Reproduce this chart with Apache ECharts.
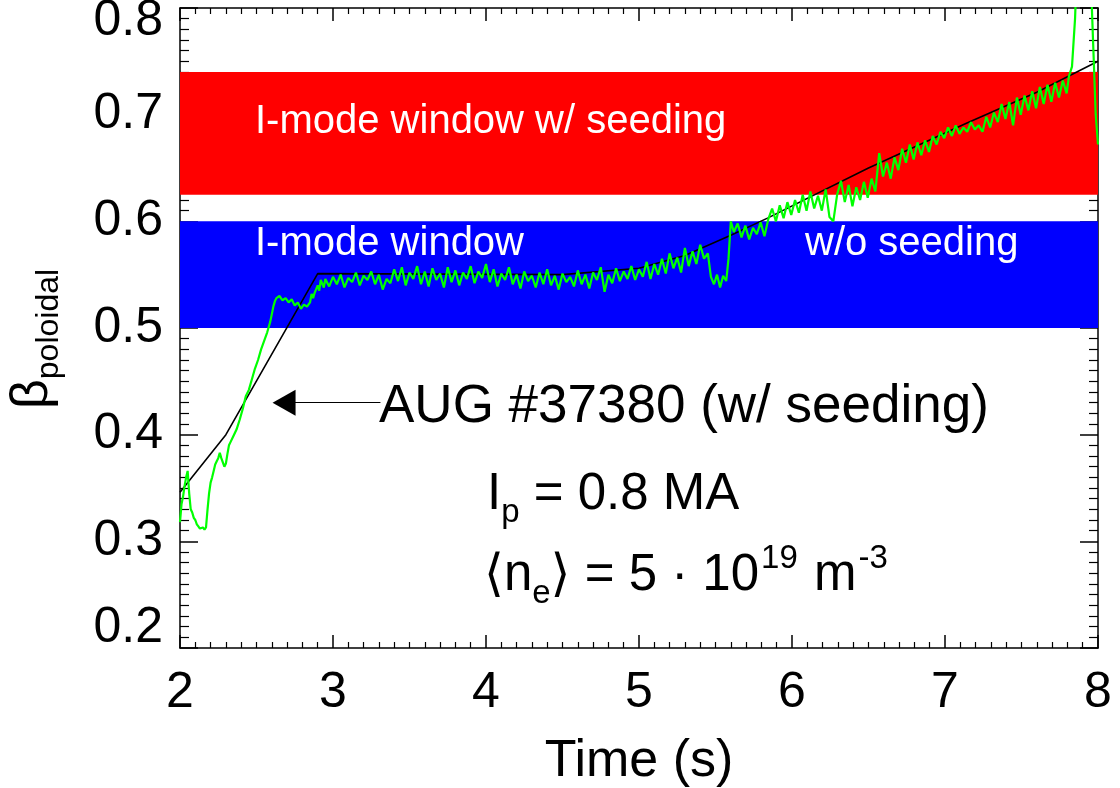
<!DOCTYPE html>
<html>
<head>
<meta charset="utf-8">
<title>beta poloidal AUG #37380</title>
<script src="https://cdn.jsdelivr.net/npm/echarts@6.0.0/dist/echarts.min.js"></script>
<style>
    html, body { margin: 0; padding: 0; background: #fff; }
    #main { width: 1120px; height: 788px; }
</style>
</head>
<body>
<div id="main"></div>
<script>
'use strict';

// axis ranges
var timeRange = [2, 8];
var betaRange = [0.2, 0.8];

// I-mode windows (beta poloidal)
var redBand = [0.625, 0.74];
var blueBand = [0.5, 0.6];

// black reference trace [time, beta]
var refTrace = [
    [2.00, 0.346], [2.30, 0.400], [2.90, 0.551], [4.50, 0.550], [5.00, 0.556],
    [5.30, 0.568], [5.60, 0.587], [5.84, 0.603], [6.50, 0.650], [7.14, 0.692],
    [7.60, 0.721], [8.00, 0.750]
];

// measured beta poloidal, AUG #37380 [time, beta]
var greenTrace = [
    [2.00, 0.318], [2.01, 0.335], [2.02, 0.342], [2.03, 0.352], [2.04, 0.360], [2.05, 0.366],
    [2.06, 0.345], [2.07, 0.330], [2.08, 0.327], [2.09, 0.322], [2.10, 0.320], [2.11, 0.316],
    [2.12, 0.314], [2.13, 0.312], [2.14, 0.311], [2.15, 0.313], [2.16, 0.311], [2.17, 0.313],
    [2.18, 0.330], [2.19, 0.345], [2.20, 0.355], [2.21, 0.360], [2.22, 0.366], [2.23, 0.372],
    [2.24, 0.375], [2.25, 0.378], [2.26, 0.383], [2.27, 0.378], [2.28, 0.374], [2.29, 0.370],
    [2.30, 0.373], [2.31, 0.382], [2.32, 0.390], [2.33, 0.393], [2.35, 0.399], [2.37, 0.405],
    [2.39, 0.414], [2.41, 0.424], [2.43, 0.436], [2.45, 0.442], [2.47, 0.452], [2.49, 0.462],
    [2.51, 0.470], [2.53, 0.480], [2.55, 0.488], [2.57, 0.496], [2.59, 0.506], [2.61, 0.520],
    [2.62, 0.525], [2.63, 0.528], [2.65, 0.530], [2.67, 0.526], [2.69, 0.528], [2.71, 0.524],
    [2.73, 0.527], [2.75, 0.521], [2.77, 0.524], [2.79, 0.518], [2.81, 0.522], [2.83, 0.520],
    [2.85, 0.524], [2.86, 0.532], [2.87, 0.528], [2.88, 0.533], [2.90, 0.540], [2.91, 0.535],
    [2.92, 0.545], [2.94, 0.538],
    [2.950, 0.546], [2.975, 0.539], [3.000, 0.548], [3.025, 0.541], [3.050, 0.550], [3.075, 0.538],
    [3.100, 0.547], [3.125, 0.543], [3.150, 0.552], [3.175, 0.540], [3.200, 0.549], [3.225, 0.545],
    [3.250, 0.553], [3.275, 0.541], [3.300, 0.550], [3.325, 0.536], [3.350, 0.546], [3.375, 0.542],
    [3.400, 0.555], [3.425, 0.544], [3.450, 0.557], [3.475, 0.540], [3.500, 0.552], [3.525, 0.546],
    [3.550, 0.558], [3.575, 0.541], [3.600, 0.553], [3.625, 0.539], [3.650, 0.556], [3.675, 0.545],
    [3.700, 0.551], [3.725, 0.538], [3.750, 0.557], [3.775, 0.543], [3.800, 0.554], [3.825, 0.540],
    [3.850, 0.552], [3.875, 0.546], [3.900, 0.558], [3.925, 0.542], [3.950, 0.553], [3.975, 0.547],
    [4.000, 0.560], [4.025, 0.543], [4.050, 0.555], [4.075, 0.539], [4.100, 0.551], [4.125, 0.545],
    [4.150, 0.557], [4.175, 0.541], [4.200, 0.550], [4.225, 0.537], [4.250, 0.553], [4.275, 0.544],
    [4.300, 0.549], [4.325, 0.538], [4.350, 0.552], [4.375, 0.541], [4.400, 0.555], [4.425, 0.540],
    [4.450, 0.549], [4.475, 0.536], [4.500, 0.551], [4.525, 0.543], [4.550, 0.548], [4.575, 0.539],
    [4.600, 0.554], [4.625, 0.541], [4.650, 0.550], [4.675, 0.537], [4.700, 0.552], [4.725, 0.545],
    [4.750, 0.557], [4.775, 0.534], [4.800, 0.550], [4.825, 0.542], [4.850, 0.556], [4.875, 0.544],
    [4.900, 0.553], [4.925, 0.546], [4.950, 0.558], [4.975, 0.545], [5.000, 0.555], [5.025, 0.548],
    [5.050, 0.562], [5.075, 0.546], [5.100, 0.560], [5.125, 0.550], [5.150, 0.565], [5.175, 0.551],
    [5.200, 0.570], [5.225, 0.556], [5.250, 0.566], [5.275, 0.552], [5.300, 0.575], [5.325, 0.558],
    [5.350, 0.572], [5.375, 0.560], [5.400, 0.578], [5.425, 0.565], [5.450, 0.570],
    [5.470, 0.548], [5.490, 0.541], [5.510, 0.550], [5.530, 0.538], [5.550, 0.549], [5.570, 0.544],
    [5.585, 0.565], [5.600, 0.600], [5.620, 0.590], [5.645, 0.598], [5.670, 0.585], [5.695, 0.596],
    [5.720, 0.583], [5.745, 0.594], [5.770, 0.588], [5.795, 0.599], [5.820, 0.586], [5.845, 0.602],
    [5.870, 0.612], [5.895, 0.600], [5.920, 0.615], [5.945, 0.603], [5.970, 0.618], [5.995, 0.606],
    [6.020, 0.620], [6.045, 0.608], [6.070, 0.625], [6.095, 0.610], [6.120, 0.628], [6.145, 0.612],
    [6.170, 0.624], [6.195, 0.610], [6.220, 0.630], [6.245, 0.604], [6.270, 0.600], [6.295, 0.625],
    [6.320, 0.638], [6.345, 0.618], [6.370, 0.634], [6.395, 0.614], [6.420, 0.632], [6.445, 0.620],
    [6.470, 0.637], [6.495, 0.622], [6.520, 0.640], [6.545, 0.628], [6.570, 0.664], [6.595, 0.642],
    [6.620, 0.655], [6.645, 0.640], [6.670, 0.660], [6.695, 0.648], [6.720, 0.668], [6.745, 0.655],
    [6.770, 0.672], [6.795, 0.658], [6.820, 0.674], [6.845, 0.662], [6.870, 0.676], [6.895, 0.665],
    [6.920, 0.680], [6.945, 0.672], [6.970, 0.684], [6.995, 0.678], [7.020, 0.688], [7.045, 0.680],
    [7.070, 0.690], [7.095, 0.682], [7.120, 0.688], [7.145, 0.684], [7.170, 0.693], [7.195, 0.686],
    [7.220, 0.690], [7.245, 0.684], [7.270, 0.698], [7.295, 0.688], [7.320, 0.702], [7.345, 0.693],
    [7.370, 0.710], [7.395, 0.696], [7.420, 0.712], [7.445, 0.690], [7.470, 0.716], [7.495, 0.700],
    [7.520, 0.718], [7.545, 0.704], [7.570, 0.722], [7.595, 0.706], [7.620, 0.726], [7.645, 0.710],
    [7.670, 0.728], [7.695, 0.712], [7.720, 0.730], [7.745, 0.716], [7.770, 0.732], [7.795, 0.720],
    [7.810, 0.736], [7.830, 0.745], [7.850, 0.790], [7.865, 0.850], [7.880, 0.900], [7.940, 0.900],
    [7.955, 0.820], [7.970, 0.760], [7.985, 0.700], [8.000, 0.672]
];

// annotation arrow, in data coordinates
var arrowFrom = [3.31, 0.43];
var arrowTo = [2.68, 0.43];

var FONT = "'Liberation Sans', Arial, 'DejaVu Sans', sans-serif";

(function() {
    var myChart = echarts.init(document.getElementById('main'));

    // frame axis: ticks inside, minor ticks every tenth
    function frameAxis(pos, range, step, showLabel, tickLen, minorLen) {
        return {
            type: 'value',
            position: pos,
            min: range[0],
            max: range[1],
            interval: step,
            axisLine: { show: true, onZero: false, lineStyle: { color: '#000', width: 1.5 } },
            axisTick: { show: true, inside: true, length: tickLen, lineStyle: { color: '#000', width: 1.5 } },
            minorTick: { show: true, splitNumber: 10, length: minorLen, lineStyle: { color: '#000', width: 1.2 } },
            splitLine: { show: false },
            minorSplitLine: { show: false },
            axisLabel: { show: showLabel }
        };
    }

    var xBottom = frameAxis('bottom', timeRange, 1, true, 13, 6);
    xBottom.axisLabel = { show: true, color: '#000', fontSize: 50, fontFamily: FONT, margin: 20 };
    xBottom.name = 'Time (s)';
    xBottom.nameLocation = 'middle';
    xBottom.nameGap = 88;
    xBottom.nameTextStyle = { color: '#000', fontSize: 52, fontFamily: FONT };
    var xTop = frameAxis('top', timeRange, 1, false, 13, 6);

    var yLeft = frameAxis('left', betaRange, 0.1, true, 18, 9);
    yLeft.axisLabel = {
        show: true,
        color: '#000',
        fontSize: 50,
        fontFamily: FONT,
        margin: 17,
        formatter: function(v) {
            var s = v.toFixed(1);
            if (v > 0.79) return '{hi|' + s + '}';
            if (v < 0.21) return '{lo|' + s + '}';
            return s;
        },
        rich: {
            hi: { color: '#000', fontSize: 50, fontFamily: FONT, padding: [26, 0, 0, 0] },
            lo: { color: '#000', fontSize: 50, fontFamily: FONT, padding: [0, 0, 40, 0] }
        }
    };
    var yRight = frameAxis('right', betaRange, 0.1, false, 18, 9);

    // rich styles for sub- and superscripts
    var subRich = function(main, lh) {
        return {
            b: { fontSize: main, lineHeight: lh, verticalAlign: 'middle', fill: '#000', fontFamily: FONT },
            s: { fontSize: 33, lineHeight: 33, verticalAlign: 'bottom', fill: '#000', fontFamily: FONT },
            u: { fontSize: 33, lineHeight: 33, verticalAlign: 'top', fill: '#000', fontFamily: FONT,
                 padding: [0, 2, 0, 2] }
        };
    };

    var option = {
        animation: false,
        backgroundColor: '#fff',
        grid: { left: 180, right: 22, top: 8, bottom: 140, outerBoundsMode: 'none' },
        xAxis: [xBottom, xTop],
        yAxis: [yLeft, yRight],
        series: [{
            name: 'windows',
            type: 'line',
            data: [],
            z: 1,
            silent: true,
            markArea: {
                silent: true,
                itemStyle: { opacity: 1 },
                data: [
                    [{ xAxis: timeRange[0], yAxis: redBand[0], itemStyle: { color: '#ff0000' } },
                     { xAxis: timeRange[1], yAxis: redBand[1] }],
                    [{ xAxis: timeRange[0], yAxis: blueBand[0], itemStyle: { color: '#0000ff' } },
                     { xAxis: timeRange[1], yAxis: blueBand[1] }]
                ]
            }
        }, {
            name: 'reference',
            type: 'line',
            data: refTrace,
            z: 2,
            showSymbol: false,
            silent: true,
            lineStyle: { color: '#000', width: 1.6 },
            markLine: {
                silent: true,
                symbol: ['none', 'triangle'],
                symbolSize: [26, 23],
                label: { show: false },
                lineStyle: { color: '#000', width: 1.2, type: 'solid' },
                data: [[{ coord: arrowFrom }, { coord: arrowTo }]]
            }
        }, {
            name: 'AUG #37380',
            type: 'line',
            data: greenTrace,
            z: 3,
            showSymbol: false,
            silent: true,
            lineStyle: { color: '#00ff00', width: 2.2 }
        }],
        graphic: [{
            type: 'text', x: 255, y: 122, z: 100,
            style: { text: 'I-mode window w/ seeding', fill: '#fff', fontSize: 40, fontFamily: FONT,
                     verticalAlign: 'middle', textVerticalAlign: 'middle' }
        }, {
            type: 'text', x: 255, y: 244, z: 100,
            style: { text: 'I-mode window', fill: '#fff', fontSize: 40, fontFamily: FONT,
                     verticalAlign: 'middle', textVerticalAlign: 'middle' }
        }, {
            type: 'text', x: 805, y: 244, z: 100,
            style: { text: 'w/o seeding', fill: '#fff', fontSize: 40, fontFamily: FONT,
                     verticalAlign: 'middle', textVerticalAlign: 'middle' }
        }, {
            type: 'text', x: 379, y: 407, z: 100,
            style: { text: 'AUG #37380 (w/ seeding)', fill: '#000', fontSize: 53, fontFamily: FONT,
                     verticalAlign: 'middle', textVerticalAlign: 'middle' }
        }, {
            type: 'text', x: 487, y: 495, z: 100,
            style: { text: '{b|I}{s|p}{b| = 0.8 MA}', fill: '#000', fontSize: 51, fontFamily: FONT,
                     verticalAlign: 'middle', textVerticalAlign: 'middle', rich: subRich(51, 68) }
        }, {
            type: 'text', x: 484, y: 576, z: 100,
            style: { text: '{b|\u27e8n}{s|e}{b|\u27e9 = 5 \u00b7 10}{u|19}{b| m}{u|-3}', fill: '#000',
                     fontSize: 51, fontFamily: FONT,
                     verticalAlign: 'middle', textVerticalAlign: 'middle', rich: subRich(51, 68) }
        }, {
            type: 'text', x: 33, y: 339, z: 100, rotation: Math.PI / 2,
            style: {
                text: '{b|\u03b2}{p|poloidal}', fill: '#000', fontSize: 52, fontFamily: FONT,
                align: 'center', textAlign: 'center', verticalAlign: 'middle', textVerticalAlign: 'middle',
                rich: {
                    b: { fontSize: 52, lineHeight: 64, verticalAlign: 'middle', fill: '#000', fontFamily: FONT },
                    p: { fontSize: 32, lineHeight: 32, verticalAlign: 'bottom', fill: '#000', fontFamily: FONT }
                }
            }
        }]
    };
    myChart.setOption(option);
})();
</script>
</body>
</html>
